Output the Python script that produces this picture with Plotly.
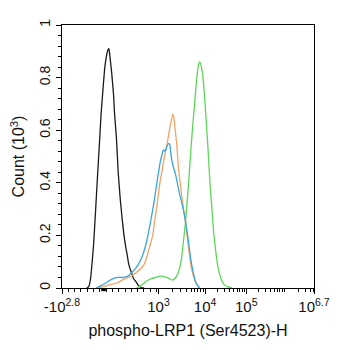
import numpy as np
import plotly.graph_objects as go

# x values are in display-channel units (0..1000 across the axis), y in counts (10^3)
black_x = [98,106,114,117,125,133,140,148,155,163,170,178,182,186,189,197,205,208,216,223,231,239,246,254,258,265,273,277,284,295,303,314,326]
black_y = [0,0.005,0.04,0.07,0.16,0.29,0.41,0.54,0.66,0.76,0.84,0.89,0.905,0.91,0.89,0.82,0.73,0.67,0.57,0.44,0.34,0.26,0.20,0.15,0.13,0.09,0.065,0.055,0.035,0.022,0.01,0.002,0]

blue_x = [136,152,167,182,201,220,239,258,273,288,303,318,330,341,352,364,375,383,390,398,402,409,417,424,428,432,439,451,466,481,489,500,511,523,534,546]
blue_y = [0,0.008,0.015,0.025,0.035,0.04,0.04,0.043,0.055,0.07,0.09,0.12,0.155,0.2,0.255,0.32,0.39,0.44,0.48,0.51,0.525,0.52,0.54,0.55,0.545,0.51,0.47,0.43,0.36,0.30,0.26,0.19,0.11,0.05,0.015,0]

orange_x = [144,163,182,201,220,239,258,277,296,314,326,337,349,360,367,375,383,390,398,405,413,421,428,436,439,443,447,455,462,474,481,489,500,511,523,534,546]
orange_y = [0,0.005,0.01,0.015,0.02,0.03,0.038,0.047,0.06,0.075,0.09,0.12,0.16,0.2,0.25,0.3,0.36,0.41,0.45,0.49,0.53,0.57,0.61,0.645,0.66,0.655,0.62,0.55,0.46,0.36,0.31,0.26,0.17,0.09,0.04,0.015,0]

green_x = [296,314,333,352,371,390,409,428,439,451,462,474,481,489,496,504,511,519,527,534,542,546,549,557,564,572,580,587,595,602,610,617,625,633,644,659,674]
green_y = [0,0.01,0.025,0.035,0.04,0.045,0.042,0.035,0.03,0.04,0.06,0.11,0.17,0.24,0.32,0.42,0.52,0.62,0.71,0.79,0.85,0.86,0.855,0.82,0.75,0.64,0.52,0.40,0.30,0.21,0.14,0.09,0.055,0.03,0.012,0.004,0]

# axis tick anchors (display units) and labels
major_pos = [0, 383, 568, 731, 1000]
major_txt = ["-10<sup>2.8</sup>", "10<sup>3</sup>", "10<sup>4</sup>", "10<sup>5</sup>", "10<sup>6.7</sup>"]
decade_vals = [3, 4, 5, 6.7]
decade_pos = [383, 568, 731, 1000]

def disp(logv):
    return float(np.interp(logv, decade_vals, decade_pos))

minor = list(np.arange(25, 383, 25))
for d in [3, 4, 5, 6]:
    for k in range(2, 10):
        lv = d + np.log10(k)
        if lv < 6.7:
            minor.append(disp(lv))

fig = go.Figure()
for xs, ys, col in [(black_x, black_y, "#1a1a1a"),
                    (green_x, green_y, "#5ed65a"),
                    (orange_x, orange_y, "#f0a46a"),
                    (blue_x, blue_y, "#3aa6d6")]:
    fig.add_trace(go.Scatter(x=xs, y=ys, mode="lines",
                             line=dict(color=col, width=1.3, shape="spline", smoothing=0.5),
                             showlegend=False, hoverinfo="skip"))

fig.add_shape(type="rect", xref="x", yref="paper", x0=156, x1=174, y0=-0.012, y1=0,
              fillcolor="black", line=dict(width=0))

font = "Liberation Sans, Arial, sans-serif"
fig.update_layout(
    width=342, height=350,
    margin=dict(l=62, r=16, t=25, b=62),
    paper_bgcolor="white", plot_bgcolor="white",
    font=dict(family=font, color="#111", size=14),
    xaxis=dict(range=[0, 1000], showgrid=False, zeroline=False,
               showline=True, linecolor="black", linewidth=1, mirror=True,
               ticks="outside", ticklen=5, tickcolor="black",
               tickmode="array", tickvals=major_pos, ticktext=major_txt,
               tickfont=dict(size=15),
               minor=dict(tickmode="array", tickvals=minor, ticklen=3, ticks="outside", tickcolor="black"),
               title=dict(text="phospho-LRP1 (Ser4523)-H", font=dict(size=16), standoff=10)),
    yaxis=dict(range=[0, 1], showgrid=False, zeroline=False,
               showline=True, linecolor="black", linewidth=1, mirror=True,
               ticks="outside", ticklen=5, tickcolor="black",
               tickmode="linear", tick0=0, dtick=0.2, tickangle=-90,
               tickfont=dict(size=14),
               minor=dict(dtick=0.04, ticklen=3, ticks="outside", tickcolor="black"),
               title=dict(text="Count (10<sup>3</sup>)", font=dict(size=16), standoff=8)),
)
fig.write_html("out.html")
